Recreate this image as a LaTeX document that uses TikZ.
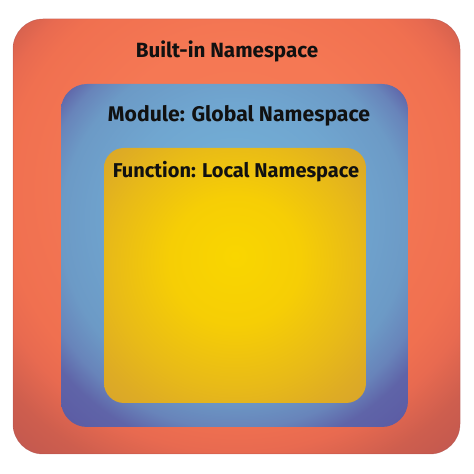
\documentclass[tikz,border=0pt]{standalone}
\usepackage{fontspec}
\setmainfont{Fira Sans}
\usetikzlibrary{shadings}
\pgfdeclareradialshading{outerglow}{\pgfpoint{0bp}{10bp}}{%
  color(0bp)=(rgb,255:red,246;green,122;blue,85);
  color(15bp)=(rgb,255:red,245;green,120;blue,84);
  color(26bp)=(rgb,255:red,240;green,112;blue,80);
  color(29bp)=(rgb,255:red,232;green,106;blue,80);
  color(33bp)=(rgb,255:red,206;green,94;blue,78);
  color(42bp)=(rgb,255:red,178;green,80;blue,80);
  color(50bp)=(rgb,255:red,172;green,78;blue,80)}
\pgfdeclareradialshading{midglow}{\pgfpoint{0bp}{9bp}}{%
  color(0bp)=(rgb,255:red,116;green,178;blue,216);
  color(16bp)=(rgb,255:red,112;green,166;blue,208);
  color(25bp)=(rgb,255:red,108;green,154;blue,198);
  color(29bp)=(rgb,255:red,104;green,132;blue,186);
  color(32bp)=(rgb,255:red,95;green,100;blue,168);
  color(41bp)=(rgb,255:red,88;green,82;blue,160);
  color(50bp)=(rgb,255:red,86;green,80;blue,158)}
\pgfdeclareradialshading{innerglow}{\pgfpoint{0bp}{4bp}}{%
  color(0bp)=(rgb,255:red,249;green,214;blue,0);
  color(12.5bp)=(rgb,255:red,246;green,206;blue,5);
  color(24bp)=(rgb,255:red,232;green,186;blue,24);
  color(31bp)=(rgb,255:red,222;green,172;blue,36);
  color(38bp)=(rgb,255:red,214;green,162;blue,46);
  color(50bp)=(rgb,255:red,212;green,160;blue,48)}
\definecolor{txt}{HTML}{111111}
\definecolor{rim}{HTML}{B0504E}
\tikzset{
  box/.style={rounded corners=#1},
  lbl/.style={font=\bfseries\fontsize{#1}{24}\selectfont, text=txt, anchor=base, inner sep=0pt}
}
\begin{document}
\begin{tikzpicture}[x=1pt,y=1pt]
\useasboundingbox (0,0) rectangle (474,474);
\fill[white] (0,0) rectangle (474,474);
\shade[shading=outerglow, box=30pt] (13,20) rectangle (460,455);
\draw[rim, line width=0.5pt, opacity=0.6, box=30pt] (13,20) rectangle (460,455);
\shade[shading=midglow, box=26pt] (61,47) rectangle (408,390);
\shade[shading=innerglow, box=20pt] (104,71) rectangle (366,326);
\node[lbl=20.6] (builtin) at (227,416) {Built-in Namespace};
\node[lbl=21.2] (module) at (239,352) {Module: Global Namespace};
\node[lbl=20] (function) at (236,296) {Function: Local Namespace};
\end{tikzpicture}
\end{document}
